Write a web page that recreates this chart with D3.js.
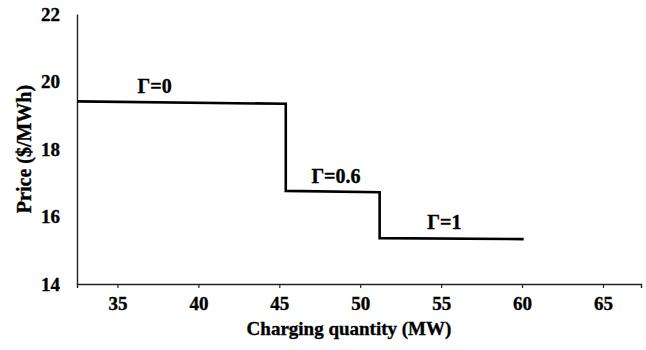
<!DOCTYPE html>
<html>
<head>
<meta charset="utf-8">
<script src="https://cdn.jsdelivr.net/npm/d3@7"></script>
<style>
  body { margin: 0; background: #fff; }
  text { font-family: "Liberation Serif", "Times New Roman", serif; font-weight: bold; fill: #000; stroke: #000; stroke-width: 0.35px; }
</style>
</head>
<body>
<svg id="chart" width="646" height="350"></svg>
<script>
// Step price curve
const quantity = [32.5, 45.4, 45.4, 51.2, 51.2, 60.1];
const price = [19.41, 19.34, 16.76, 16.72, 15.36, 15.33];

// Uncertainty labels placed over each step
const gammaLabels = ['Γ=0', 'Γ=0.6', 'Γ=1'];
const gammaX = [37.3, 48.5, 55.2];
const gammaY = [19.38, 16.74, 15.35];

const xTicks = [35, 40, 45, 50, 55, 60, 65];
const yTicks = [14, 16, 18, 20, 22];

const svg = d3.select('#chart');
const plotLeft = 77, plotRight = 641, plotTop = 14, plotBottom = 284;

const x = d3.scaleLinear().domain([32.5, 67.35]).range([plotLeft, plotRight]);
const y = d3.scaleLinear().domain([14, 22]).range([plotBottom, plotTop]);

// X axis: ticks pointing down, labels below
const xAxis = svg.append('g')
  .attr('transform', `translate(0,${plotBottom})`)
  .call(d3.axisBottom(x).tickValues(xTicks).tickSize(4).tickPadding(9));
xAxis.select('.domain').attr('stroke', '#222').attr('stroke-width', 1.4);
xAxis.selectAll('.tick line').attr('stroke', '#222').attr('stroke-width', 1.2);
xAxis.selectAll('.tick text')
  .style('font-size', '19px')
  .style('font-family', '"Liberation Serif", serif')
  .style('font-weight', 'bold');

// Y axis: no tick marks, labels to the left
const yAxis = svg.append('g')
  .attr('transform', `translate(${plotLeft},0)`)
  .call(d3.axisLeft(y).tickValues(yTicks).tickSize(0).tickPadding(17));
yAxis.select('.domain').attr('stroke', '#222').attr('stroke-width', 1.4);
yAxis.selectAll('.tick text')
  .style('font-size', '19px')
  .style('font-family', '"Liberation Serif", serif')
  .style('font-weight', 'bold');

// Axis titles
svg.append('text')
  .attr('x', 349).attr('y', 335)
  .attr('text-anchor', 'middle')
  .style('font-size', '19px')
  .text('Charging quantity (MW)');

svg.append('text')
  .attr('transform', 'translate(31,149) rotate(-90)')
  .attr('text-anchor', 'middle')
  .style('font-size', '20px')
  .text('Price ($/MWh)');

// Step line
const pts = quantity.map((q, i) => [q, price[i]]);
svg.append('path')
  .datum(pts)
  .attr('fill', 'none')
  .attr('stroke', '#000')
  .attr('stroke-width', 2.6)
  .attr('stroke-linejoin', 'miter')
  .attr('d', d3.line().x(d => x(d[0])).y(d => y(d[1])));

// Gamma labels
svg.selectAll('.gamma')
  .data(gammaLabels)
  .enter().append('text')
  .attr('class', 'gamma')
  .attr('x', (d, i) => x(gammaX[i]))
  .attr('y', (d, i) => y(gammaY[i]) - 9)
  .attr('text-anchor', 'middle')
  .style('font-size', '20px')
  .text(d => d);
</script>
</body>
</html>
